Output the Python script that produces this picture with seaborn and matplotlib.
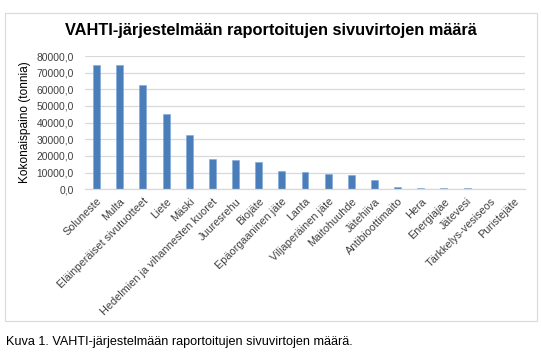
import matplotlib
matplotlib.use("Agg")
import matplotlib.pyplot as plt
import seaborn as sns
import pandas as pd
from matplotlib.patches import Rectangle
from matplotlib.ticker import FuncFormatter

categories = ["Soluneste", "Multa", "Eläinperäiset sivutuotteet", "Liete", "Mäski",
              "Hedelmien ja vihannesten kuoret", "Juuresrehu", "Biojäte",
              "Epäorgaaninen jäte", "Lanta", "Viljaperäinen jäte", "Maitohuuhde",
              "Jätehiiva", "Antibioottimaito", "Hera", "Energiajae", "Jätevesi",
              "Tärkkelys-vesiseos", "Puristejäte"]
values = [74600, 74400, 62600, 45000, 32600, 18200, 17600, 16200, 11200, 10400,
          9200, 8600, 5800, 1300, 900, 800, 600, 300, 50]
yticks = [0, 10000, 20000, 30000, 40000, 50000, 60000, 70000, 80000]

title = "VAHTI-järjestelmään raportoitujen sivuvirtojen määrä"
ylabel = "Kokonaispaino (tonnia)"
caption = "Kuva 1. VAHTI-järjestelmään raportoitujen sivuvirtojen määrä."

sns.set_style("white")
plt.rcParams['font.family'] = ['Liberation Sans', 'DejaVu Sans']

W, H = 541, 354
fig = plt.figure(figsize=(W / 100, H / 100), dpi=100)

# outer chart border
fig.patches.append(Rectangle((5 / W, 1 - 321 / H), (537 - 5) / W, (321 - 13) / H,
                             transform=fig.transFigure, fill=False,
                             edgecolor="#D9D9D9", linewidth=0.8))

left, right, top, bottom = 85, 525, 56, 189.3
ax = fig.add_axes([left / W, 1 - bottom / H, (right - left) / W, (bottom - top) / H])

df = pd.DataFrame({"cat": categories, "val": values})
sns.barplot(data=df, x="cat", y="val", color="#4A7EBB", width=0.3, ax=ax,
            saturation=1, edgecolor="#7FA6D6", linewidth=0.4)

ax.set_ylim(0, 80000)
ax.set_xlim(-0.5, len(categories) - 0.5)
ax.set_yticks(yticks)
ax.yaxis.set_major_formatter(FuncFormatter(lambda v, p: f"{v:.1f}".replace(".", ",")))
ax.grid(axis="y", color="#D9D9D9", linewidth=0.9)
ax.set_axisbelow(True)
for s in ["top", "right", "left"]:
    ax.spines[s].set_visible(False)
ax.spines["bottom"].set_color("#D9D9D9")
ax.spines["bottom"].set_linewidth(0.9)
ax.tick_params(axis="x", length=0, labelsize=7.8, colors="#404040", pad=5)
ax.tick_params(axis="y", length=0, labelsize=7.4, colors="#404040", pad=8)
ax.set_xticks(range(len(categories)))
ax.set_xticklabels(categories, rotation=45, ha="right", rotation_mode="anchor")
ax.set_xlabel("")
ax.set_ylabel("")

fig.text(25 / W, 1 - 122 / H, ylabel, rotation=90, ha="center", va="center",
         fontsize=8.6, color="#000000")
fig.text(271 / W, 1 - 31 / H, title, ha="center", va="center", fontsize=11.8,
         fontweight="bold", color="#000000")
fig.text(6 / W, 1 - 342 / H, caption, ha="left", va="center", fontsize=9.1,
         color="#000000")

fig.savefig("out.png", dpi=100)
